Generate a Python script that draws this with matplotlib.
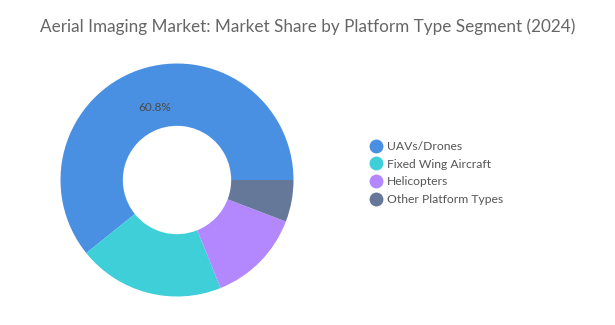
import numpy as np
import matplotlib.pyplot as plt
from matplotlib.lines import Line2D

plt.rcParams['font.family'] = ['Lato', 'DejaVu Sans']

# Platform type shares (percent)
segments = ['UAVs/Drones', 'Fixed Wing Aircraft', 'Helicopters', 'Other Platform Types']
shares = [60.8, 20.3, 13.1, 5.8]
colors = ['#4A90E2', '#3ECFD8', '#B388FF', '#66789A']

W, H = 615, 325
fig = plt.figure(figsize=(W / 100, H / 100), dpi=100)

# donut centred at (177, 180) px, outer radius ~116 px
cx, cy, R = 177, 180, 116.5
ax = fig.add_axes([(cx - R) / W, (H - cy - R) / H, 2 * R / W, 2 * R / H])

wedges, _ = ax.pie(shares, colors=colors, startangle=0, counterclock=True,
                   radius=1, wedgeprops=dict(width=0.535, edgecolor='none'))
ax.set_xlim(-1, 1)
ax.set_ylim(-1, 1)
ax.set_aspect('equal')
ax.axis('off')

# percentage label only on the largest slice
w = wedges[0]
mid = np.deg2rad((w.theta1 + w.theta2) / 2)
ax.text(0.66 * np.cos(mid) + 0.03, 0.66 * np.sin(mid), f'{shares[0]}%',
        ha='center', va='center', fontsize=8.5, color='#4a4a4a')

fig.text(0.5, 1 - 27 / H,
         'Aerial Imaging Market: Market Share by Platform Type Segment (2024)',
         ha='center', va='center', fontsize=12.3, color='#666666')

handles = [Line2D([0], [0], marker='o', linestyle='none', markersize=10,
                  markerfacecolor=c, markeredgecolor='none') for c in colors]
fig.legend(handles, segments, loc='upper left',
           bbox_to_anchor=(368 / W, 1 - 141 / H), frameon=False,
           fontsize=8.7, labelcolor='#555555', handletextpad=0.3,
           labelspacing=0.55, handlelength=1.3, borderaxespad=0, borderpad=0)

fig.savefig('out.png', dpi=100)
